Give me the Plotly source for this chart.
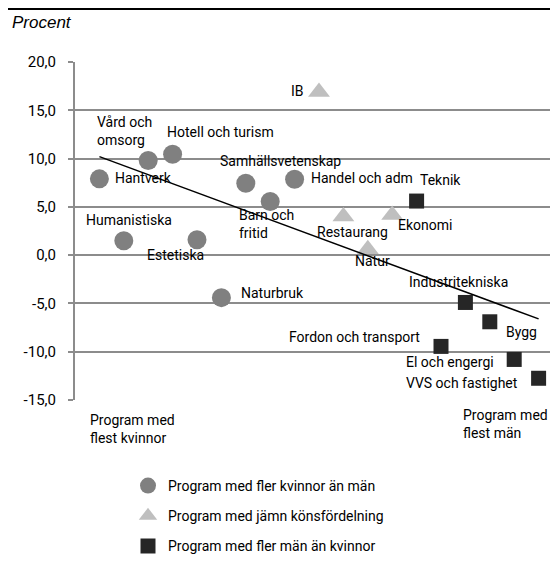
import numpy as np
import plotly.graph_objects as go

# program, share difference (procent), group
programs = ["Hantverk", "Humanistiska", "Vård och<br>omsorg", "Hotell och turism", "Estetiska",
            "Naturbruk", "Samhällsvetenskap", "Barn och<br>fritid", "Handel och adm", "IB",
            "Restaurang", "Natur", "Ekonomi", "Teknik", "Fordon och transport",
            "Industritekniska", "Bygg", "El och engergi", "VVS och fastighet"]
values = [7.9, 1.5, 9.8, 10.45, 1.6,
          -4.4, 7.45, 5.55, 7.86, 16.9,
          4.0, 0.6, 4.15, 5.6, -9.45,
          -4.9, -6.9, -10.8, -12.75]
groups = ["k", "k", "k", "k", "k",
          "k", "k", "k", "k", "j",
          "j", "j", "j", "m", "m",
          "m", "m", "m", "m"]

group_names = {"k": "Program med fler kvinnor än män",
               "j": "Program med jämn könsfördelning",
               "m": "Program med fler män än kvinnor"}
tick_vals = [-15, -10, -5, 0, 5, 10, 15, 20]
tick_text = ["-15,0", "-10,0", "-5,0", "0,0", "5,0", "10,0", "15,0", "20,0"]

# label placement (anchor, xshift px, yshift px)
label_pos = [("left", 14, 1), ("left", -40, 21), ("left", -53, 30), ("left", -8, 22), ("left", -52, -15),
             ("left", 18, 5), ("left", -28, 22), ("left", -33, -22), ("left", 14, 1), ("right", -13, 1),
             ("left", -28, -15), ("left", -15, -12), ("left", 4, -10), ("left", 1, 21), ("right", -19, 9),
             ("left", -58, 20), ("left", 14, -10), ("right", -18, -3), ("right", -19, -5)]

ranks = list(range(1, len(programs) + 1))

# page body has an 8px margin all round, so the figure is made to fit inside it
OFF = 8
W, H = 558 - 2 * OFF, 563 - 2 * OFF
FONT = "Roboto, sans-serif"


def px(x):
    return (x - OFF) / W


def py(y):
    return 1 - (y - OFF) / H


styles = {
    "k": dict(symbol="circle", color="#808080", size=19),
    "j": dict(symbol="triangle-up", color="#bfbfbf", size=19),
    "m": dict(symbol="square", color="#262626", size=15),
}

fig = go.Figure()

for g in ["k", "j", "m"]:
    xs = [r for r, gg in zip(ranks, groups) if gg == g]
    ys = [v for v, gg in zip(values, groups) if gg == g]
    s = styles[g]
    fig.add_trace(go.Scatter(
        x=xs, y=ys, mode="markers", name=group_names[g], legendgroup=g,
        marker=dict(symbol=s["symbol"], color=s["color"], size=s["size"], line=dict(width=0)),
        hoverinfo="skip"
    ))

# trend line
k, m = np.polyfit(ranks, values, 1)
fig.add_trace(go.Scatter(
    x=[ranks[0], ranks[-1]], y=[k * ranks[0] + m, k * ranks[-1] + m],
    mode="lines", line=dict(color="black", width=1.5), showlegend=False, hoverinfo="skip"
))

for r, v, name, (anc, dx, dy) in zip(ranks, values, programs, label_pos):
    fig.add_annotation(x=r, y=v, text=name, showarrow=False, xanchor=anc, yanchor="middle",
                       xshift=dx, yshift=dy, align="left",
                       font=dict(family=FONT, size=14, color="black"))

fig.add_annotation(xref="paper", yref="paper", x=px(88), y=py(429),
                   text="Program med<br>flest kvinnor", showarrow=False, xanchor="left",
                   yanchor="middle", align="left", font=dict(family=FONT, size=14, color="black"))
fig.add_annotation(xref="paper", yref="paper", x=1, y=py(424),
                   text="Program med<br>flest män", showarrow=False, xanchor="right",
                   yanchor="middle", align="left", font=dict(family=FONT, size=14, color="black"))
fig.add_annotation(xref="paper", yref="paper", x=px(10), y=py(22),
                   text="<i>Procent</i>", showarrow=False, xanchor="left", yanchor="middle",
                   font=dict(family="Liberation Sans, Arial, sans-serif", size=17, color="black"))

# top frame line
fig.add_shape(type="line", xref="paper", yref="paper", x0=0, x1=1,
              y0=1 - 1 / H, y1=1 - 1 / H, line=dict(color="black", width=2))

fig.update_layout(
    width=W, height=H,
    margin=dict(l=0, r=0, t=0, b=0, autoexpand=False),
    plot_bgcolor="white", paper_bgcolor="white",
    xaxis=dict(range=[0, (W + OFF - 75) / 24.4], visible=False, domain=[px(75), 1]),
    yaxis=dict(range=[-15, 20], tickvals=tick_vals, ticktext=tick_text,
               domain=[py(400), py(62)], automargin=False,
               showgrid=True, gridcolor="#8c8c8c", gridwidth=1.5,
               showline=True, linecolor="#8c8c8c", linewidth=2,
               ticks="outside", ticklen=5, tickcolor="#8c8c8c", tickwidth=1.5,
               ticklabelstandoff=9,
               zeroline=False, tickfont=dict(family=FONT, size=15, color="black")),
    legend=dict(x=px(128), y=py(470), xanchor="left", yanchor="top",
                tracegroupgap=9, font=dict(family=FONT, size=14, color="black"),
                bgcolor="rgba(0,0,0,0)"),
    showlegend=True,
)

fig.write_html("out.html")
